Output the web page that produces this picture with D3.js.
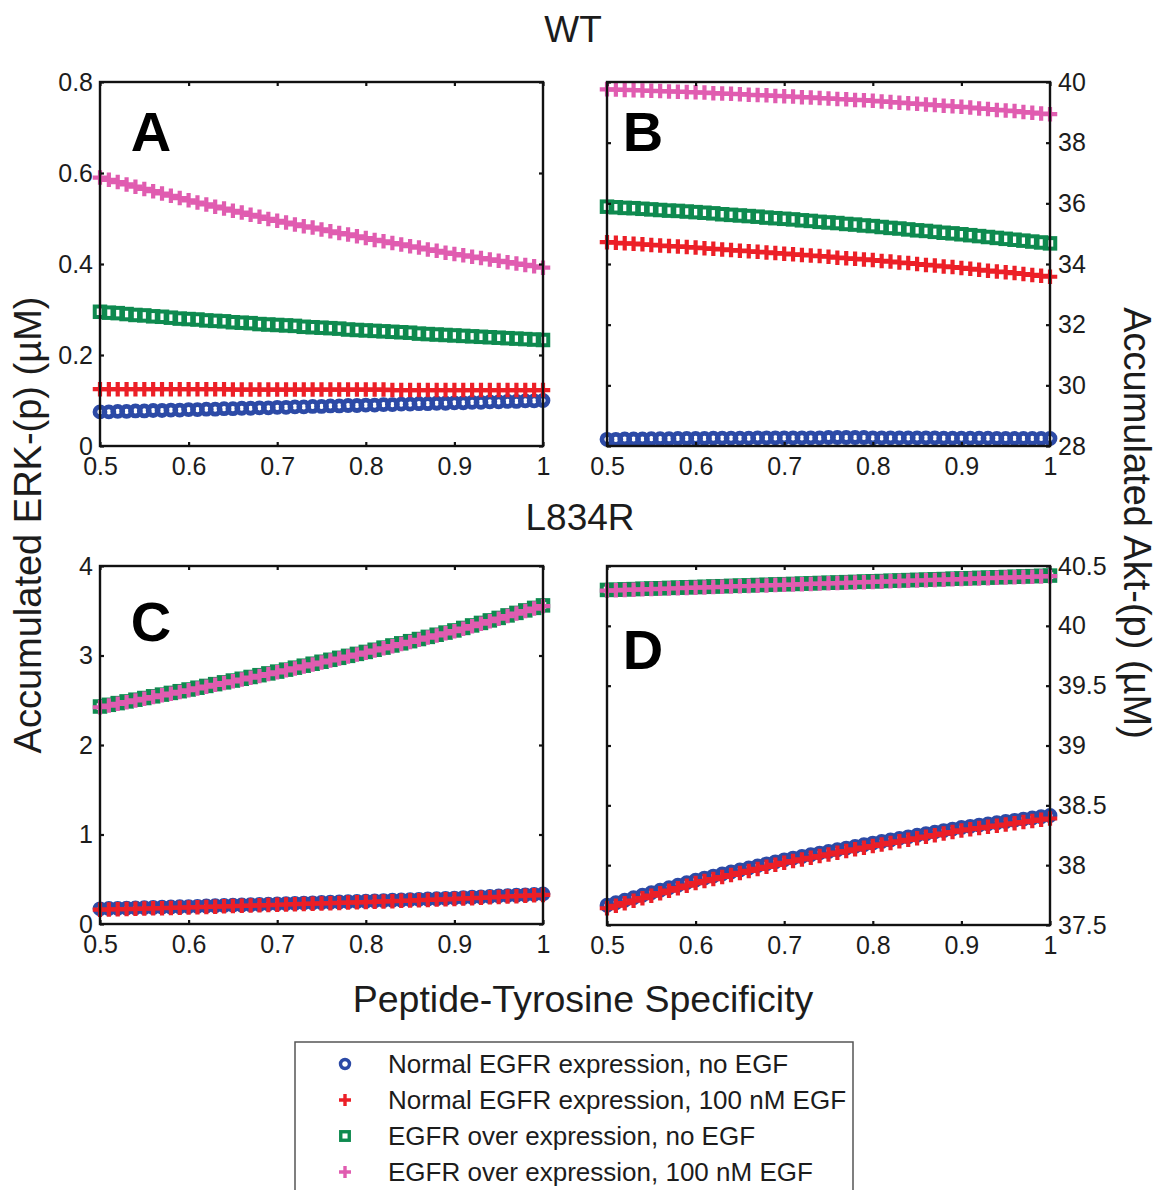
<!DOCTYPE html>
<html><head><meta charset="utf-8">
<script src="https://cdn.jsdelivr.net/npm/d3@7"></script>
<style>body{margin:0;background:#fff}svg{display:block}text{font-family:"Liberation Sans",Arial,Helvetica,sans-serif}</style>
</head><body>
<svg id="chart" width="1158" height="1190"></svg>
<script>
const specificity = [0.50,0.51,0.52,0.53,0.54,0.55,0.56,0.57,0.58,0.59,0.60,0.61,0.62,0.63,0.64,0.65,0.66,0.67,0.68,0.69,0.70,0.71,0.72,0.73,0.74,0.75,0.76,0.77,0.78,0.79,0.80,0.81,0.82,0.83,0.84,0.85,0.86,0.87,0.88,0.89,0.90,0.91,0.92,0.93,0.94,0.95,0.96,0.97,0.98,0.99,1.00];
const xTicks = [0.5,0.6,0.7,0.8,0.9,1];
const seriesNames = ["Normal EGFR expression, no EGF","Normal EGFR expression, 100 nM EGF","EGFR over expression, no EGF","EGFR over expression, 100 nM EGF"];

// Panel A: WT, ERK
const A_blue = [.075,.075,.076,.076,.077,.077,.078,.078,.079,.079,.080,.080,.081,.081,.082,.082,.083,.083,.084,.084,.085,.085,.086,.086,.087,.087,.088,.088,.089,.089,.090,.090,.091,.091,.092,.092,.093,.093,.094,.094,.095,.095,.096,.096,.097,.097,.098,.098,.099,.099,.100];
const A_red = [.125,.125,.125,.125,.125,.125,.125,.125,.125,.125,.125,.125,.125,.125,.125,.124,.124,.124,.124,.124,.124,.124,.124,.124,.124,.124,.124,.124,.124,.124,.124,.124,.124,.123,.123,.123,.123,.123,.123,.123,.123,.123,.123,.123,.123,.123,.123,.123,.123,.123,.123];
const A_green = [.295,.293,.292,.290,.288,.287,.285,.284,.282,.280,.279,.278,.276,.275,.274,.272,.271,.270,.268,.267,.266,.265,.264,.262,.261,.260,.259,.258,.256,.255,.254,.253,.252,.251,.250,.249,.247,.246,.245,.244,.243,.242,.241,.240,.239,.238,.237,.236,.235,.234,.233];
const A_pink = [.590,.585,.580,.575,.570,.565,.560,.555,.550,.545,.540,.535,.531,.526,.522,.517,.513,.508,.504,.499,.495,.491,.487,.483,.480,.476,.472,.468,.465,.461,.457,.453,.450,.446,.443,.439,.436,.432,.429,.425,.422,.419,.416,.413,.410,.407,.404,.401,.398,.395,.392];
const A_yTicks = [0,0.2,0.4,0.6,0.8];

// Panel B: WT, Akt
const B_blue = [28.22,28.22,28.23,28.23,28.23,28.24,28.24,28.24,28.25,28.25,28.25,28.25,28.26,28.26,28.26,28.26,28.26,28.27,28.27,28.27,28.27,28.27,28.27,28.27,28.27,28.28,28.28,28.28,28.28,28.28,28.27,28.27,28.27,28.27,28.27,28.27,28.27,28.27,28.26,28.26,28.26,28.26,28.26,28.26,28.25,28.25,28.25,28.25,28.25,28.25,28.25];
const B_red = [34.72,34.70,34.68,34.67,34.65,34.63,34.61,34.59,34.58,34.56,34.54,34.52,34.50,34.48,34.46,34.44,34.42,34.40,34.38,34.36,34.34,34.32,34.30,34.28,34.26,34.24,34.21,34.19,34.17,34.15,34.13,34.10,34.08,34.05,34.03,34.00,33.97,33.95,33.92,33.90,33.87,33.84,33.81,33.78,33.75,33.73,33.70,33.67,33.64,33.61,33.58];
const B_green = [35.89,35.87,35.85,35.84,35.82,35.80,35.78,35.76,35.75,35.73,35.71,35.69,35.67,35.64,35.62,35.60,35.58,35.56,35.53,35.51,35.49,35.47,35.44,35.42,35.39,35.37,35.35,35.32,35.30,35.27,35.25,35.22,35.19,35.17,35.14,35.11,35.09,35.06,35.03,35.01,34.98,34.95,34.92,34.89,34.86,34.83,34.80,34.77,34.74,34.71,34.68];
const B_pink = [39.76,39.75,39.74,39.73,39.72,39.71,39.70,39.69,39.68,39.67,39.66,39.65,39.63,39.62,39.61,39.60,39.58,39.57,39.56,39.54,39.53,39.52,39.50,39.49,39.47,39.46,39.44,39.43,39.41,39.40,39.38,39.36,39.34,39.32,39.30,39.28,39.26,39.24,39.22,39.20,39.18,39.16,39.13,39.11,39.08,39.06,39.04,39.01,38.99,38.96,38.94];
const B_yTicks = [28,30,32,34,36,38,40];

// Panel C: L834R, ERK
const C_blue = [.170,.173,.175,.178,.180,.183,.185,.188,.190,.193,.195,.198,.201,.204,.207,.210,.213,.216,.219,.222,.225,.228,.231,.234,.237,.240,.243,.246,.249,.252,.255,.259,.262,.266,.269,.273,.276,.280,.283,.287,.290,.295,.299,.304,.308,.313,.317,.322,.326,.331,.335];
const C_red = [.160,.162,.165,.167,.170,.172,.175,.177,.180,.182,.185,.188,.191,.194,.197,.200,.203,.206,.209,.212,.215,.218,.221,.224,.227,.230,.233,.236,.239,.242,.245,.248,.252,.255,.259,.262,.266,.269,.273,.276,.280,.284,.289,.293,.298,.302,.307,.311,.316,.320,.325];
const C_green = [2.430,2.449,2.468,2.487,2.506,2.525,2.544,2.563,2.582,2.601,2.620,2.640,2.660,2.680,2.700,2.720,2.740,2.760,2.780,2.800,2.820,2.842,2.864,2.886,2.908,2.930,2.952,2.974,2.996,3.018,3.040,3.064,3.088,3.112,3.136,3.160,3.184,3.208,3.232,3.256,3.280,3.308,3.336,3.364,3.392,3.420,3.448,3.476,3.504,3.532,3.560];
const C_pink = [2.422,2.441,2.460,2.479,2.498,2.517,2.536,2.555,2.574,2.593,2.612,2.632,2.652,2.672,2.692,2.712,2.732,2.752,2.772,2.792,2.812,2.834,2.856,2.878,2.900,2.922,2.944,2.966,2.988,3.010,3.032,3.056,3.080,3.104,3.128,3.152,3.176,3.200,3.224,3.248,3.272,3.300,3.328,3.356,3.384,3.412,3.440,3.468,3.496,3.524,3.552];
const C_yTicks = [0,1,2,3,4];

// Panel D: L834R, Akt
const D_blue = [37.665,37.686,37.707,37.728,37.749,37.770,37.791,37.812,37.833,37.854,37.875,37.892,37.909,37.926,37.943,37.960,37.977,37.994,38.011,38.028,38.045,38.059,38.073,38.087,38.101,38.115,38.129,38.143,38.157,38.171,38.185,38.198,38.211,38.224,38.237,38.250,38.263,38.276,38.289,38.302,38.315,38.325,38.335,38.345,38.355,38.365,38.375,38.385,38.395,38.405,38.415];
const D_red = [37.640,37.661,37.682,37.703,37.724,37.745,37.766,37.787,37.808,37.829,37.850,37.867,37.884,37.901,37.918,37.935,37.952,37.969,37.986,38.003,38.020,38.034,38.048,38.062,38.076,38.090,38.104,38.118,38.132,38.146,38.160,38.173,38.186,38.199,38.212,38.225,38.238,38.251,38.264,38.277,38.290,38.300,38.310,38.320,38.330,38.340,38.350,38.360,38.370,38.380,38.390];
const D_green = [40.300,40.302,40.305,40.307,40.310,40.312,40.314,40.317,40.319,40.322,40.324,40.326,40.329,40.331,40.334,40.336,40.338,40.341,40.343,40.346,40.348,40.350,40.353,40.355,40.358,40.360,40.362,40.365,40.367,40.370,40.372,40.374,40.377,40.379,40.382,40.384,40.386,40.389,40.391,40.394,40.396,40.398,40.401,40.403,40.406,40.408,40.410,40.413,40.415,40.418,40.420];
const D_pink = [40.295,40.297,40.300,40.302,40.305,40.307,40.309,40.312,40.314,40.317,40.319,40.321,40.324,40.326,40.329,40.331,40.333,40.336,40.338,40.341,40.343,40.345,40.348,40.350,40.353,40.355,40.357,40.360,40.362,40.365,40.367,40.369,40.372,40.374,40.377,40.379,40.381,40.384,40.386,40.389,40.391,40.393,40.396,40.398,40.401,40.403,40.405,40.408,40.410,40.413,40.415];
const D_yTicks = [37.5,38,38.5,39,39.5,40,40.5];

const colors = ["#2c4aa6","#ec1f27","#0e8a4f","#e05cb0"];
const shapes = ["circle","plus","square","plus"];

const panels = [
  {id:"A", x0:100, x1:543, y0:82, y1:446, dom:[0,0.8], ticks:A_yTicks, side:"left", series:[A_blue,A_red,A_green,A_pink], lx:151, ly:131},
  {id:"B", x0:607, x1:1050, y0:82, y1:446, dom:[28,40], ticks:B_yTicks, side:"right", series:[B_blue,B_red,B_green,B_pink], lx:643, ly:131},
  {id:"C", x0:100, x1:543, y0:566, y1:924, dom:[0,4], ticks:C_yTicks, side:"left", series:[C_blue,C_red,C_green,C_pink], lx:151, ly:621},
  {id:"D", x0:607, x1:1050, y0:566, y1:925, dom:[37.5,40.5], ticks:D_yTicks, side:"right", series:[D_blue,D_red,D_green,D_pink], lx:643, ly:649}
];

const svg = d3.select("#chart");
const fmt = d3.format("~g");
const TXT = "#1c1c1c";

function drawMarker(g, shape, color, size, sw){
  if(shape==="circle"){
    g.append("circle").attr("r", size/2).attr("fill","none").attr("stroke",color).attr("stroke-width",sw);
  } else if(shape==="square"){
    g.append("rect").attr("x",-size/2).attr("y",-size/2).attr("width",size).attr("height",size)
      .attr("fill","none").attr("stroke",color).attr("stroke-width",sw);
  } else {
    const h = size/2;
    g.append("path").attr("d",`M${-h},0H${h}M0,${-h}V${h}`).attr("fill","none").attr("stroke",color).attr("stroke-width",sw);
  }
}

const mSize = [10, 14.5, 10.5, 14.5];
const mWidth = [4.8, 4.2, 4, 4.2];

panels.forEach(p => {
  const x = d3.scaleLinear().domain([0.5,1]).range([p.x0,p.x1]);
  const y = d3.scaleLinear().domain(p.dom).range([p.y1,p.y0]);
  const g = svg.append("g");

  p.series.forEach((vals, si) => {
    const sg = g.append("g");
    specificity.forEach((sx, i) => {
      const m = sg.append("g").attr("transform",`translate(${x(sx)},${y(vals[i])})`);
      drawMarker(m, shapes[si], colors[si], mSize[si], mWidth[si]);
    });
  });

  const tickStyle = sel => { sel.select(".domain").remove(); sel.selectAll("line").attr("stroke","#111").attr("stroke-width",2.2);
    sel.selectAll("text").attr("font-size",25).attr("fill",TXT).style("font-family",'"Liberation Sans",Arial,sans-serif'); };
  g.append("g").attr("transform",`translate(0,${p.y1})`)
    .call(d3.axisBottom(x).tickValues(xTicks).tickFormat(fmt).tickSize(-4).tickPadding(11)).call(tickStyle);
  g.append("g").attr("transform",`translate(0,${p.y0})`)
    .call(d3.axisTop(x).tickValues(xTicks).tickFormat("").tickSize(-4)).call(tickStyle);
  const yl = d3.axisLeft(y).tickValues(p.ticks).tickSize(-4);
  const yr = d3.axisRight(y).tickValues(p.ticks).tickSize(-4);
  if(p.side==="left"){ yl.tickFormat(fmt).tickPadding(7); yr.tickFormat(""); }
  else { yr.tickFormat(fmt).tickPadding(8); yl.tickFormat(""); }
  g.append("g").attr("transform",`translate(${p.x0},0)`).call(yl).call(tickStyle);
  g.append("g").attr("transform",`translate(${p.x1},0)`).call(yr).call(tickStyle);

  g.append("rect").attr("x",p.x0).attr("y",p.y0).attr("width",p.x1-p.x0).attr("height",p.y1-p.y0)
    .attr("fill","none").attr("stroke","#111").attr("stroke-width",2.4);

  g.append("text").attr("x",p.lx).attr("y",p.ly).attr("text-anchor","middle").attr("dominant-baseline","central")
    .attr("font-size",56).attr("font-weight","bold").attr("fill","#000").text(p.id);
});

svg.append("text").attr("x",573).attr("y",29).attr("text-anchor","middle").attr("dominant-baseline","central")
  .attr("font-size",37).attr("fill",TXT).text("WT");
svg.append("text").attr("x",580).attr("y",517).attr("text-anchor","middle").attr("dominant-baseline","central")
  .attr("font-size",37).attr("fill",TXT).text("L834R");
svg.append("text").attr("x",583).attr("y",999).attr("text-anchor","middle").attr("dominant-baseline","central")
  .attr("font-size",37.5).attr("fill",TXT).text("Peptide-Tyrosine Specificity");
svg.append("text").attr("transform","translate(28,525) rotate(-90)").attr("text-anchor","middle").attr("dominant-baseline","central")
  .attr("font-size",38).attr("fill",TXT).text("Accumulated ERK-(p) (\u00b5M)");
svg.append("text").attr("transform","translate(1137,523) rotate(90)").attr("text-anchor","middle").attr("dominant-baseline","central")
  .attr("font-size",38).attr("fill",TXT).text("Accumulated Akt-(p) (\u00b5M)");

const lg = svg.append("g");
lg.append("rect").attr("x",295).attr("y",1042).attr("width",558).attr("height",160)
  .attr("fill","#fff").attr("stroke","#555").attr("stroke-width",1.5);
const legSize = [9, 12, 8.5, 12];
seriesNames.forEach((name, i) => {
  const cy = 1064 + i*36;
  const m = lg.append("g").attr("transform",`translate(345,${cy})`);
  drawMarker(m, shapes[i], colors[i], legSize[i], 3.4);
  lg.append("text").attr("x",388).attr("y",cy).attr("dominant-baseline","central")
    .attr("font-size",26).attr("fill",TXT).text(name);
});
</script>
</body></html>
